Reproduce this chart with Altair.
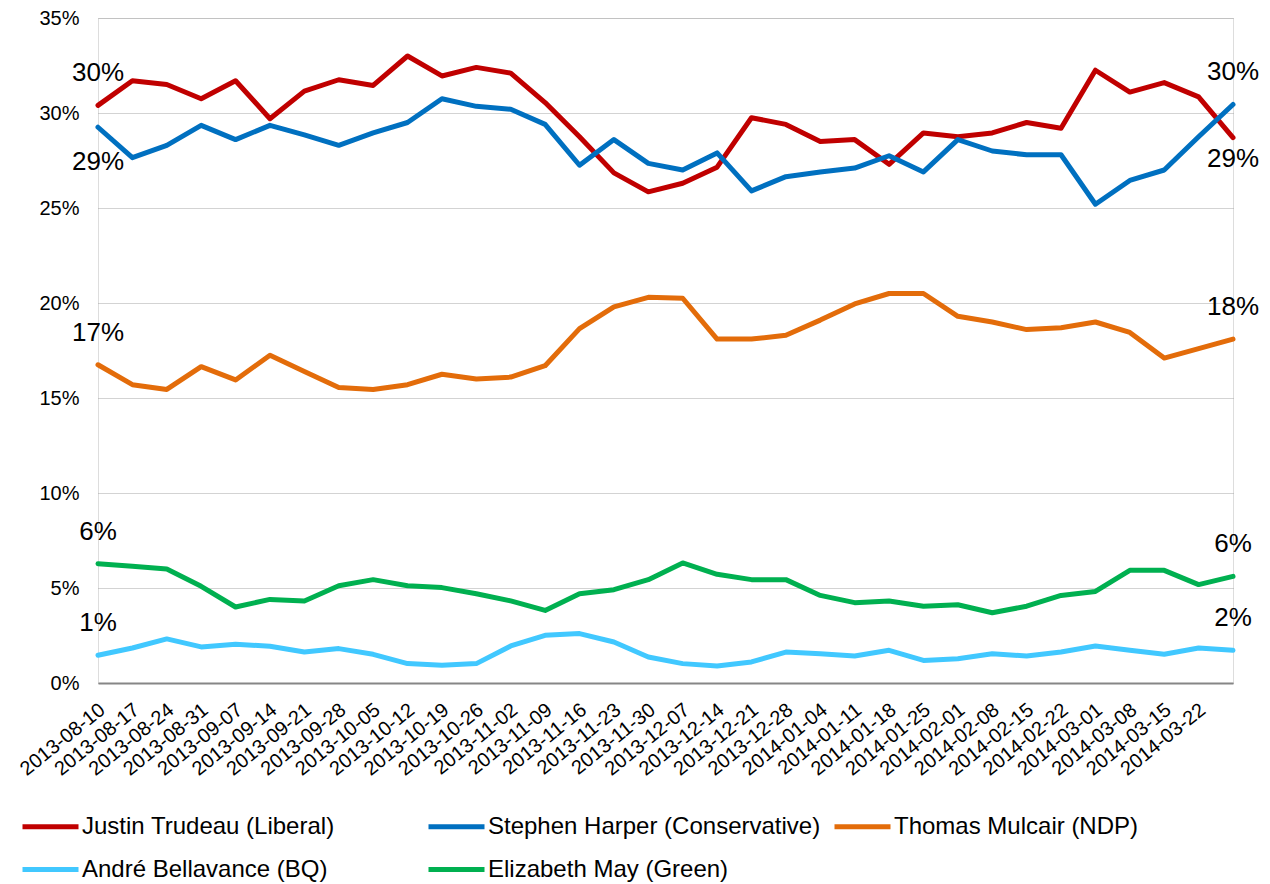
import altair as alt
import pandas as pd

dates = [
    "2013-08-10", "2013-08-17", "2013-08-24", "2013-08-31", "2013-09-07", "2013-09-14",
    "2013-09-21", "2013-09-28", "2013-10-05", "2013-10-12", "2013-10-19", "2013-10-26",
    "2013-11-02", "2013-11-09", "2013-11-16", "2013-11-23", "2013-11-30", "2013-12-07",
    "2013-12-14", "2013-12-21", "2013-12-28", "2014-01-04", "2014-01-11", "2014-01-18",
    "2014-01-25", "2014-02-01", "2014-02-08", "2014-02-15", "2014-02-22", "2014-03-01",
    "2014-03-08", "2014-03-15", "2014-03-22", "2014-03-29",
]
hidden_label = "2014-03-29"

candidates = [
    "Justin Trudeau (Liberal)",
    "Stephen Harper (Conservative)",
    "Thomas Mulcair (NDP)",
    "André Bellavance (BQ)",
    "Elizabeth May (Green)",
]
colors = ["#C00000", "#0070C0", "#E36C0A", "#41C8FF", "#00B050"]

trudeau = [30.4, 31.7, 31.5, 30.75, 31.7, 29.7, 31.15, 31.75, 31.45, 33.0, 31.95, 32.4,
           32.1, 30.55, 28.75, 26.85, 25.85, 26.3, 27.15, 29.75, 29.4, 28.5, 28.6, 27.3,
           28.95, 28.75, 28.95, 29.5, 29.2, 32.25, 31.1, 31.6, 30.85, 28.7]
harper = [29.25, 27.65, 28.3, 29.35, 28.6, 29.35, 28.85, 28.3, 28.95, 29.5, 30.75, 30.35,
          30.2, 29.4, 27.25, 28.6, 27.35, 27.0, 27.9, 25.9, 26.65, 26.9, 27.1, 27.75,
          26.9, 28.6, 28.0, 27.8, 27.8, 25.2, 26.45, 27.0, 28.75, 30.45]
mulcair = [16.75, 15.7, 15.45, 16.65, 15.95, 17.25, 16.4, 15.55, 15.45, 15.7, 16.25, 16.0,
           16.1, 16.7, 18.65, 19.8, 20.3, 20.25, 18.1, 18.1, 18.3, 19.1, 19.95, 20.5,
           20.5, 19.3, 19.0, 18.6, 18.7, 19.0, 18.45, 17.1, 17.6, 18.1]
bellavance = [1.46, 1.84, 2.32, 1.9, 2.04, 1.93, 1.63, 1.81, 1.51, 1.02, 0.93, 1.02,
              1.95, 2.51, 2.6, 2.16, 1.37, 1.02, 0.9, 1.11, 1.63, 1.54, 1.42, 1.72,
              1.19, 1.28, 1.54, 1.42, 1.63, 1.95, 1.72, 1.51, 1.84, 1.72]
may = [6.28, 6.14, 6.0, 5.09, 4.0, 4.4, 4.32, 5.12, 5.44, 5.12, 5.02, 4.7,
       4.32, 3.82, 4.7, 4.91, 5.44, 6.32, 5.72, 5.44, 5.44, 4.61, 4.23, 4.32,
       4.04, 4.12, 3.7, 4.04, 4.61, 4.82, 5.93, 5.93, 5.18, 5.61]

series = [trudeau, harper, mulcair, bellavance, may]

rows = []
for name, vals in zip(candidates, series):
    for d, v in zip(dates, vals):
        rows.append({"date": d, "candidate": name, "value": v / 100.0})
df = pd.DataFrame(rows)

# end labels: first and last point of every series
lab_rows = []
for idx in (0, len(dates) - 1):
    top_two = {candidates[0]: trudeau[idx], candidates[1]: harper[idx]}
    lower = min(top_two, key=top_two.get)
    for name, vals in zip(candidates, series):
        pos = "below" if name == lower else "above"
        lab_rows.append({"date": dates[idx], "candidate": name, "value": vals[idx] / 100.0,
                         "pos": pos, "end": "start" if idx == 0 else "end"})
labels = pd.DataFrame(lab_rows)

FONT = "Liberation Sans"

x_enc = alt.X(
    "date:O",
    sort=dates,
    scale=alt.Scale(type="point", padding=0),
    axis=alt.Axis(
        title=None, labelAngle=-39, labelFontSize=20, labelFont=FONT, labelColor="#000000",
        labelAlign="right", labelBaseline="middle", labelPadding=24, labelOffset=4,
        labelOverlap=False, ticks=False, tickSize=0, grid=False,
        domainColor="#868686", domainWidth=2,
        labelExpr=f"datum.value == '{hidden_label}' ? '' : datum.label",
    ),
)
y_enc = alt.Y(
    "value:Q",
    scale=alt.Scale(domain=[0, 0.35], nice=False, zero=True),
    axis=alt.Axis(
        title=None, format=".0%", values=[0, 0.05, 0.10, 0.15, 0.20, 0.25, 0.30, 0.35],
        labelFontSize=20, labelFont=FONT, labelColor="#000000", labelPadding=19,
        ticks=False, tickSize=0, domain=False,
        grid=True, gridColor="#A6A6A6", gridDash=[1, 1], gridWidth=1,
    ),
)

color_enc = alt.Color(
    "candidate:N",
    scale=alt.Scale(domain=candidates, range=colors),
    legend=alt.Legend(
        title=None, orient="none", legendX=-78, legendY=778, columns=3,
        direction="horizontal",
        gridAlign="all", columnPadding=3, rowPadding=-12,
        symbolType="stroke", symbolSize=3136, symbolStrokeWidth=5,
        labelFontSize=24, labelFont=FONT, labelColor="#000000", labelLimit=500,
        labelOffset=1,
    ),
)

lines = alt.Chart(df).mark_line(strokeWidth=5, strokeCap="round", strokeJoin="round").encode(
    x=x_enc, y=y_enc, color=color_enc,
    order=alt.Order("date:O"),
)

def text_layer(data, dy):
    return alt.Chart(data).mark_text(
        font=FONT, fontSize=26, color="#000000", align="center", baseline="middle", dy=dy
    ).encode(
        x=alt.X("date:O", sort=dates),
        y=alt.Y("value:Q"),
        text=alt.Text("value:Q", format=".0%"),
    )

above = text_layer(labels[labels["pos"] == "above"], -32)
below_start = text_layer(labels[(labels["pos"] == "below") & (labels["end"] == "start")], 35)
below_end = text_layer(labels[(labels["pos"] == "below") & (labels["end"] == "end")], 21)

chart = alt.layer(lines, above, below_start, below_end).properties(
    width=1135,
    height=665,
    padding={"left": 90, "top": 10, "right": 29, "bottom": 200},
    autosize=alt.AutoSizeParams(type="none"),
).configure_view(stroke=None).configure(background="#ffffff")

chart.save("out.html", embed_options={"renderer": "svg", "actions": False})
